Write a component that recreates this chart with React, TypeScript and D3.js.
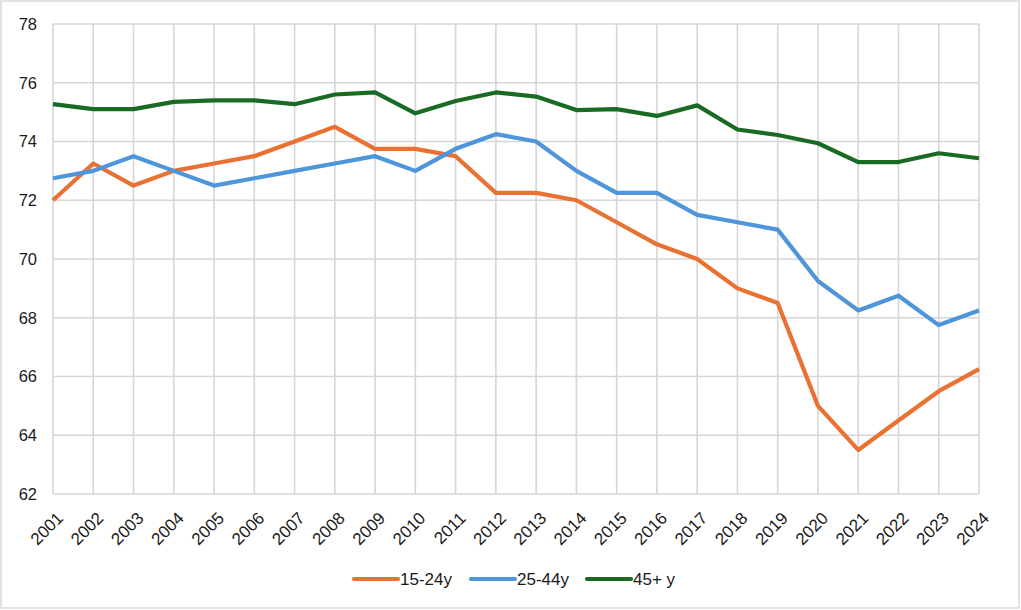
import { useEffect, useRef } from "react"
import * as d3 from "d3"

const years = [
  "2001", "2002", "2003", "2004", "2005", "2006", "2007", "2008", "2009", "2010", "2011", "2012",
  "2013", "2014", "2015", "2016", "2017", "2018", "2019", "2020", "2021", "2022", "2023", "2024",
]

const youth = [
  72, 73.25, 72.5, 73, 73.25, 73.5, 74, 74.5, 73.75, 73.75, 73.5, 72.25,
  72.25, 72, 71.25, 70.5, 70, 69, 68.5, 65, 63.5, 64.5, 65.5, 66.25,
]

const prime = [
  72.75, 73, 73.5, 73, 72.5, 72.75, 73, 73.25, 73.5, 73, 73.75, 74.25,
  74, 73, 72.25, 72.25, 71.5, 71.25, 71, 69.25, 68.25, 68.75, 67.75, 68.25,
]

const older = [
  75.27, 75.1, 75.1, 75.35, 75.4, 75.4, 75.27, 75.6, 75.67, 74.96, 75.38, 75.67,
  75.53, 75.07, 75.1, 74.87, 75.23, 74.41, 74.22, 73.94, 73.3, 73.3, 73.6, 73.43,
]

const yTicks = [62, 64, 66, 68, 70, 72, 74, 76, 78]

const seriesNames = ["15-24y", "25-44y", "45+ y"]
const seriesColors = ["#E97132", "#4E95D9", "#196B24"]

export default function App() {
  const svgRef = useRef<SVGSVGElement | null>(null)

  useEffect(() => {
    if (!svgRef.current) return
    const width = 1021
    const height = 610
    const margin = { top: 24, right: 42, bottom: 116, left: 53 }

    const svg = d3.select(svgRef.current)
    svg.selectAll("*").remove()

    // chart border
    svg
      .append("rect")
      .attr("x", 1)
      .attr("y", 1)
      .attr("width", width - 3)
      .attr("height", height - 3)
      .attr("fill", "#fff")
      .attr("stroke", "#D9D9D9")
      .attr("stroke-width", 1.5)

    const x = d3
      .scalePoint<string>()
      .domain(years)
      .range([margin.left, width - margin.right])

    const y = d3
      .scaleLinear()
      .domain([62, 78])
      .range([height - margin.bottom, margin.top])

    const font = "'Liberation Sans', Arial, sans-serif"

    // horizontal grid + y labels
    const gy = svg.append("g")
    gy.selectAll("line")
      .data(yTicks)
      .enter()
      .append("line")
      .attr("x1", margin.left)
      .attr("x2", width - margin.right)
      .attr("y1", (d) => y(d))
      .attr("y2", (d) => y(d))
      .attr("stroke", "#D6D6D6")
      .attr("stroke-width", 1.6)

    gy.selectAll("text")
      .data(yTicks)
      .enter()
      .append("text")
      .attr("x", 37)
      .attr("y", (d) => y(d))
      .attr("dy", "0.35em")
      .attr("text-anchor", "end")
      .attr("font-family", font)
      .attr("font-size", 16.5)
      .attr("fill", "#1a1a1a")
      .text((d) => d)

    // vertical grid + x labels
    const gx = svg.append("g")
    gx.selectAll("line")
      .data(years)
      .enter()
      .append("line")
      .attr("x1", (d) => x(d)!)
      .attr("x2", (d) => x(d)!)
      .attr("y1", margin.top)
      .attr("y2", height - margin.bottom)
      .attr("stroke", "#D6D6D6")
      .attr("stroke-width", 1.6)

    gx.selectAll("text")
      .data(years)
      .enter()
      .append("text")
      .attr("transform", (d) => `translate(${x(d)! + 7},${height - margin.bottom + 21}) rotate(-45)`)
      .attr("text-anchor", "end")
      .attr("dy", "0.35em")
      .attr("font-family", font)
      .attr("font-size", 17)
      .attr("fill", "#1a1a1a")
      .text((d) => d)

    // lines
    const allSeries = [youth, prime, older]
    const line = d3
      .line<number>()
      .x((_, i) => x(years[i])!)
      .y((d) => y(d))

    allSeries.forEach((values, i) => {
      svg
        .append("path")
        .datum(values)
        .attr("d", line)
        .attr("fill", "none")
        .attr("stroke", seriesColors[i])
        .attr("stroke-width", 4.2)
        .attr("stroke-linejoin", "round")
    })

    // legend
    const legendX = [354, 471, 587]
    const legendY = 579
    const legend = svg
      .selectAll(".legend")
      .data(seriesNames)
      .enter()
      .append("g")
      .attr("class", "legend")
      .attr("transform", (_, i) => `translate(${legendX[i]},${legendY})`)

    legend
      .append("line")
      .attr("x1", 0)
      .attr("x2", 44)
      .attr("stroke", (_, i) => seriesColors[i])
      .attr("stroke-width", 4.2)
      .attr("stroke-linecap", "round")

    legend
      .append("text")
      .attr("x", 46)
      .attr("dy", "0.35em")
      .attr("font-family", font)
      .attr("font-size", 17)
      .attr("fill", "#1a1a1a")
      .text((d) => d)
  }, [])

  return (
    <svg
      ref={svgRef}
      width={1021}
      height={610}
      style={{ position: "absolute", left: 0, top: 0, display: "block" }}
    />
  )
}
